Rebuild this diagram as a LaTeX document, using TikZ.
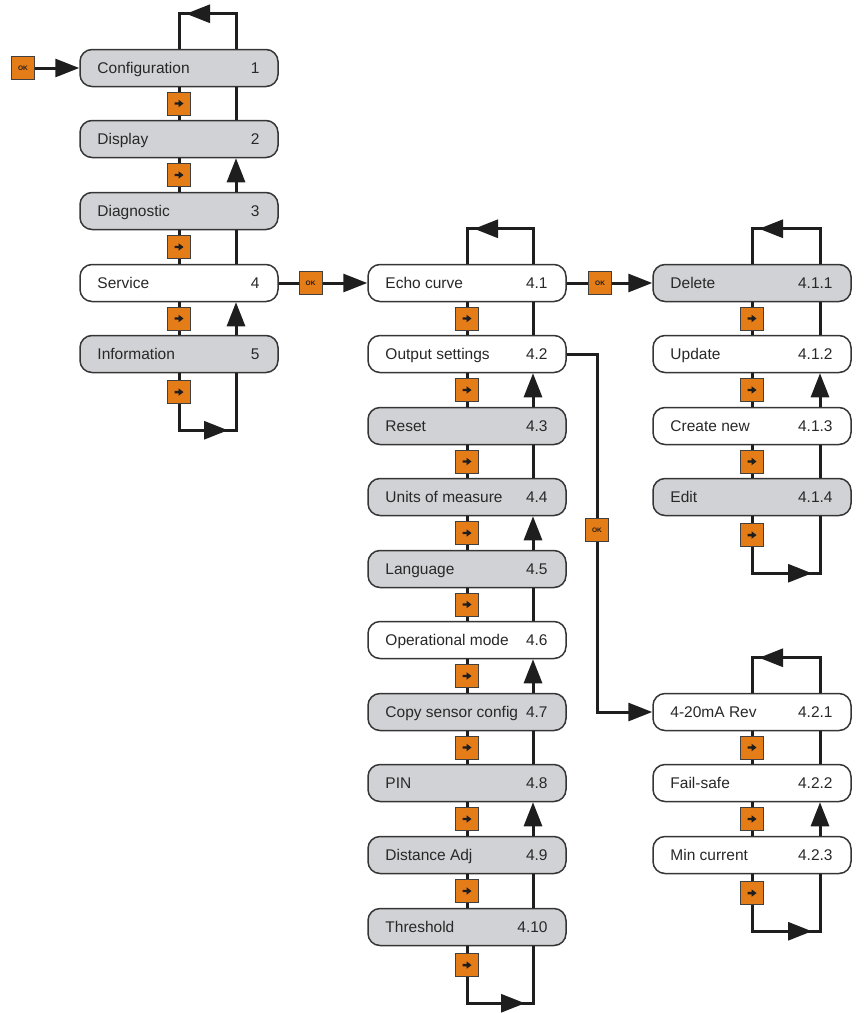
\documentclass[tikz,border=0pt]{standalone}
\usepackage{fontspec}
\setmainfont{Liberation Sans}
\usetikzlibrary{arrows.meta,decorations.markings}
\definecolor{orng}{RGB}{228,124,24}
\definecolor{gbox}{RGB}{209,210,213}
\definecolor{ink}{RGB}{30,30,30}
\definecolor{txtc}{RGB}{40,40,40}
\tikzset{
  mbox/.style={draw=ink!90,line width=1.5pt,rounded corners=12pt,minimum width=198pt,minimum height=37pt,inner sep=0pt},
  mtxt/.style={inner sep=0pt,text=txtc,font=\fontsize{15.5}{18}\selectfont},
  conn/.style={draw=ink,line width=3pt},
  bigtip/.tip={Triangle[length=24pt,width=18pt]},
  midarrow/.style={postaction={decorate,decoration={markings,mark=at position #1 with {\arrow{bigtip}}}}},
  btn/.style={draw=ink!85,line width=1pt,fill=orng,minimum size=23pt,inner sep=0pt,
    path picture={\fill[ink] ([xshift=-4.5pt,yshift=1.2pt]path picture bounding box.center) -- ++(4pt,0pt) -- ++(0pt,2.6pt) -- ++(5pt,-3.8pt) -- ++(-5pt,-3.8pt) -- ++(0pt,2.6pt) -- ++(-4pt,0pt) -- cycle;}},
  btnok/.style={draw=ink!85,line width=1pt,fill=orng,minimum size=23pt,inner sep=0pt,text=ink,font=\fontsize{6.5}{7}\selectfont\bfseries}
}
\newcommand\mitem[6]{%
  \node[mbox,fill=#4] (#1) at (#2,#3) {};
  \node[mtxt,anchor=base west] (#1-l) at ([xshift=18pt,yshift=-5.5pt]#1.west) {#5};
  \node[mtxt,anchor=base east] (#1-n) at ([xshift=-19pt,yshift=-5.5pt]#1.east) {#6};}
\newcommand\dnlink[3]{\draw[conn] (#1.south) -- node[btn] (#3) {} (#2.north);}
\newcommand\upplain[3]{\draw[conn] ([xshift=#3]#1.south) -- ([xshift=#3]#2.north);}
\newcommand\uparr[3]{\draw[conn,-bigtip] ([xshift=#3]#2.north) -- ([xshift=#3]#1.south);}
\newcommand\toploop[2]{\draw[conn,midarrow=-42pt] ([xshift=#2]#1.north) -- ++(0,-35) -| (#1.north);}
\newcommand\botloop[3]{\draw[conn,midarrow=-65pt] (#1.south) -- node[btn,pos=0.33] (#3) {} ++(0,57) -| ([xshift=#2]#1.south);}
\begin{document}
\begin{tikzpicture}[x=1pt,y=-1pt]
\useasboundingbox (0,0) rectangle (863,1013);
% column 1
\mitem{c1}{179}{68}{gbox}{Configuration}{1}
\mitem{c2}{179}{139}{gbox}{Display}{2}
\mitem{c3}{179}{211}{gbox}{Diagnostic}{3}
\mitem{c4}{179}{283}{white}{Service}{4}
\mitem{c5}{179}{354}{gbox}{Information}{5}
% column 2
\mitem{s1}{467}{283}{white}{Echo curve}{4.1}
\mitem{s2}{467}{354}{white}{Output settings}{4.2}
\mitem{s3}{467}{426}{gbox}{Reset}{4.3}
\mitem{s4}{467}{497}{gbox}{Units of measure}{4.4}
\mitem{s5}{467}{569}{gbox}{Language}{4.5}
\mitem{s6}{467}{640}{white}{Operational mode}{4.6}
\mitem{s7}{467}{712}{gbox}{Copy sensor config}{4.7}
\mitem{s8}{467}{783}{gbox}{PIN}{4.8}
\mitem{s9}{467}{855}{gbox}{Distance Adj}{4.9}
\mitem{s10}{467}{927}{gbox}{Threshold}{4.10}
% column 3
\mitem{e1}{752}{283}{gbox}{Delete}{4.1.1}
\mitem{e2}{752}{354}{white}{Update}{4.1.2}
\mitem{e3}{752}{426}{white}{Create new}{4.1.3}
\mitem{e4}{752}{497}{gbox}{Edit}{4.1.4}
\mitem{o1}{752}{712}{white}{4-20mA Rev}{4.2.1}
\mitem{o2}{752}{783}{white}{Fail-safe}{4.2.2}
\mitem{o3}{752}{855}{white}{Min current}{4.2.3}
% entry
\node[btnok] (ok0) at (23,68) {OK};
\draw[conn,-bigtip] (ok0.east) -- (c1.west);
\draw[conn,-bigtip] (c4.east) -- node[btnok,pos=0.36] (ok1) {OK} (s1.west);
\draw[conn,-bigtip] (s1.east) -- node[btnok,pos=0.39] (ok2) {OK} (e1.west);
\draw[conn,-bigtip] (s2.east) -- ++(31,0) |- (o1.west);
\node[btnok] (ok3) at (597,530) {OK};
% column 1 links
\toploop{c1}{57pt}
\dnlink{c1}{c2}{b12}\dnlink{c2}{c3}{b23}\dnlink{c3}{c4}{b34}\dnlink{c4}{c5}{b45}
\upplain{c1}{c2}{57pt}\uparr{c2}{c3}{57pt}\upplain{c3}{c4}{57pt}\uparr{c4}{c5}{57pt}
\botloop{c5}{57pt}{b5}
% column 2 links
\toploop{s1}{66pt}
\dnlink{s1}{s2}{t12}\dnlink{s2}{s3}{t23}\dnlink{s3}{s4}{t34}\dnlink{s4}{s5}{t45}\dnlink{s5}{s6}{t56}
\dnlink{s6}{s7}{t67}\dnlink{s7}{s8}{t78}\dnlink{s8}{s9}{t89}\dnlink{s9}{s10}{t910}
\upplain{s1}{s2}{66pt}\uparr{s2}{s3}{66pt}\upplain{s3}{s4}{66pt}\uparr{s4}{s5}{66pt}\upplain{s5}{s6}{66pt}
\uparr{s6}{s7}{66pt}\upplain{s7}{s8}{66pt}\uparr{s8}{s9}{66pt}\upplain{s9}{s10}{66pt}
\botloop{s10}{66pt}{t10}
% column 3 links
\toploop{e1}{68pt}
\dnlink{e1}{e2}{u12}\dnlink{e2}{e3}{u23}\dnlink{e3}{e4}{u34}
\upplain{e1}{e2}{68pt}\uparr{e2}{e3}{68pt}\upplain{e3}{e4}{68pt}
\botloop{e4}{68pt}{u4}
\toploop{o1}{68pt}
\dnlink{o1}{o2}{v12}\dnlink{o2}{o3}{v23}
\upplain{o1}{o2}{68pt}\uparr{o2}{o3}{68pt}
\botloop{o3}{68pt}{v3}
\end{tikzpicture}
\end{document}
